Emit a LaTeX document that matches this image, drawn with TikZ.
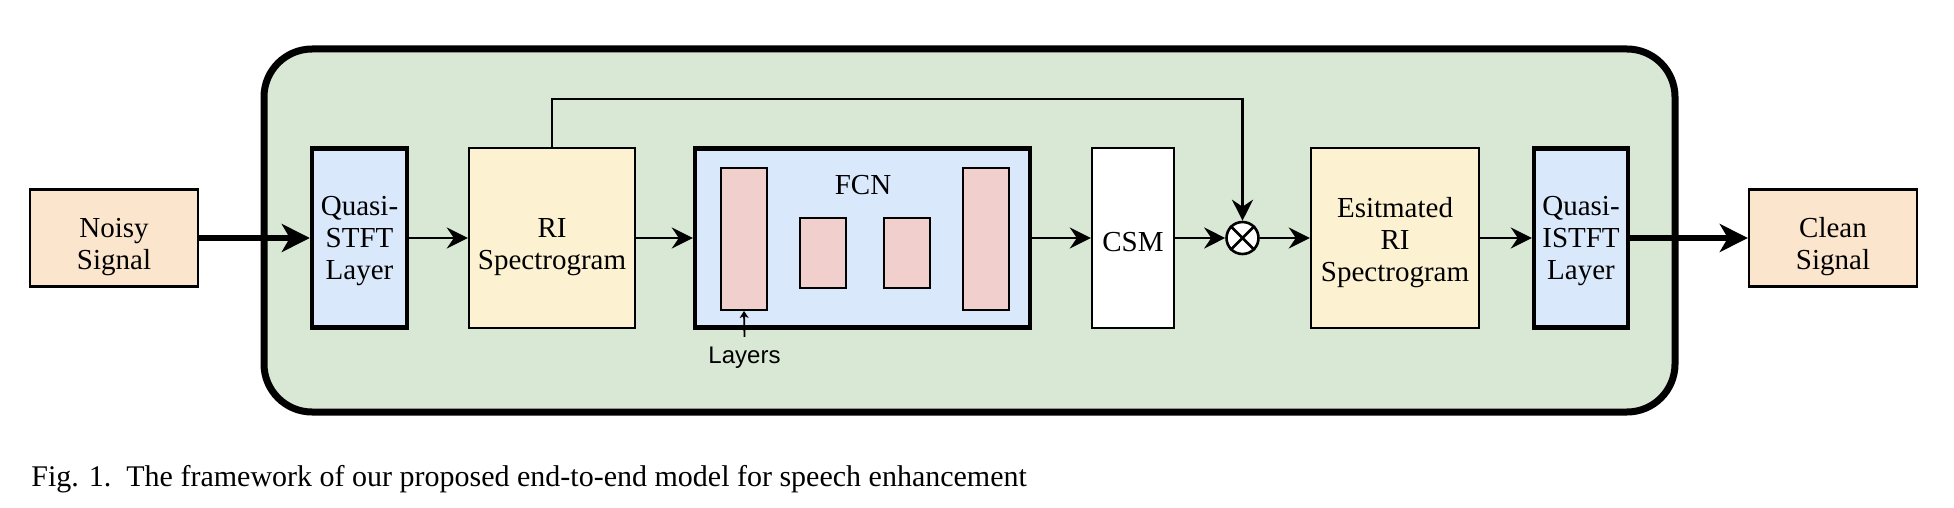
\documentclass[tikz,border=0pt]{standalone}
\usepackage{fontspec}
\setmainfont{Liberation Serif}
\newfontfamily\lsans{Liberation Sans}
\usetikzlibrary{arrows.meta}
\definecolor{sigfill}{HTML}{FCE5CD}
\definecolor{outerfill}{HTML}{D9E7D5}
\definecolor{bluefill}{HTML}{DAE8FC}
\definecolor{yelfill}{HTML}{FCF1D1}
\definecolor{pinkfill}{HTML}{F1CFCC}
\begin{document}
\begin{tikzpicture}[x=0.5pt,y=-0.5pt,
  txt/.style={font=\fontsize{14.5}{16}\selectfont, align=center, inner sep=0pt},
  box/.style={draw, line width=1.2pt, inner sep=0pt},
  thickbox/.style={box, line width=2.2pt},
  layerbox/.style={draw, line width=1pt, fill=pinkfill, inner sep=0pt, minimum width=23pt},
  arr/.style={-{Stealth[length=10.5pt,width=10.5pt,inset=3.5pt]}, line width=1.3pt},
  bigarr/.style={-{Stealth[length=14pt,width=14pt,inset=4pt]}, line width=2.7pt},
  smallarr/.style={-{Stealth[length=3.5pt,width=4.5pt,inset=1pt]}, line width=0.9pt}]
\useasboundingbox (0,0) rectangle (1954,508);
% outer frame
\node[draw, line width=3.5pt, fill=outerfill, rounded corners=24pt, inner sep=0pt,
  minimum width=705.5pt, minimum height=181.5pt] (frame) at (969.5,230.5) {};
% nodes
\node[box, fill=sigfill, minimum width=84pt, minimum height=48.5pt,
  label={[txt, yshift=-4.5pt]center:Noisy\\Signal}] (noisy) at (114,238) {};
\node[thickbox, fill=bluefill, minimum width=47.5pt, minimum height=89.5pt,
  label={[txt, yshift=-1.5pt]center:Quasi-\\STFT\\Layer}] (stft) at (359.5,238) {};
\node[box, fill=yelfill, minimum width=83pt, minimum height=90pt,
  label={[txt, yshift=-4.5pt]center:RI\\Spectrogram}] (ri) at (552,238) {};
\node[thickbox, fill=bluefill, minimum width=167.5pt, minimum height=89.5pt] (fcn) at (862.5,238) {};
\node[txt] (fcnlabel) at (863,185) {FCN};
\node[layerbox, minimum height=71pt] (l1) at (744,239) {};
\node[layerbox, minimum height=35pt] (l2) at (823,253) {};
\node[layerbox, minimum height=35pt] (l3) at (907,253) {};
\node[layerbox, minimum height=71pt] (l4) at (986,239) {};
\node[inner sep=0pt, font=\lsans\fontsize{12}{14}\selectfont] (lay) at (744.5,358) {Layers};
\node[box, fill=white, minimum width=41pt, minimum height=90pt,
  label={[txt, yshift=-2.25pt]center:CSM}] (csm) at (1133,238) {};
\node[circle, draw, line width=1.3pt, fill=white, minimum size=16pt, inner sep=0pt] (mul) at (1242.5,238) {};
\draw[line width=1.3pt] (mul.north west) -- (mul.south east) (mul.north east) -- (mul.south west);
\node[box, fill=yelfill, minimum width=84pt, minimum height=90pt,
  label={[txt, yshift=-2.25pt]center:Esitmated\\RI\\Spectrogram}] (est) at (1395,238) {};
\node[thickbox, fill=bluefill, minimum width=47pt, minimum height=89.5pt,
  label={[txt, yshift=-1.5pt]center:Quasi-\\ISTFT\\Layer}] (istft) at (1581,238) {};
\node[box, fill=sigfill, minimum width=84pt, minimum height=48.5pt,
  label={[txt, yshift=-4.5pt]center:Clean\\Signal}] (clean) at (1833,238) {};
% connectors
\draw[bigarr] (noisy.east) -- (stft.west);
\draw[arr] (stft.east) -- (ri.west);
\draw[arr] (ri.east) -- (fcn.west);
\draw[arr] (fcn.east) -- (csm.west);
\draw[arr] (csm.east) -- (mul.west);
\draw[arr] (mul.east) -- (est.west);
\draw[arr] (est.east) -- (istft.west);
\draw[bigarr] (istft.east) -- (clean.west);
\draw[arr] (ri.north) |- (552,99) -| (mul.north);
\draw[smallarr] ([yshift=5pt]lay.north) -- (l1.south);
% caption
\node[anchor=base west, inner sep=0pt, font=\fontsize{15}{18}\selectfont] (cap) at (31,486)
  {Fig. 1.\ \ The framework of our proposed end-to-end model for speech enhancement};
\end{tikzpicture}
\end{document}
